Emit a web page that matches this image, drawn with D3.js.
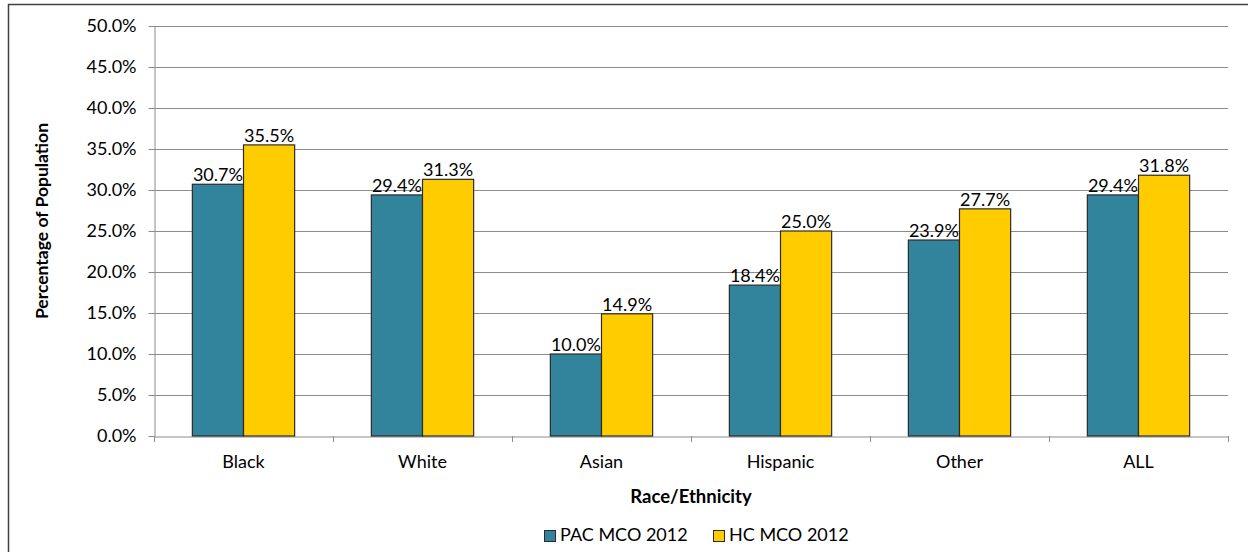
<!DOCTYPE html>
<html>
<head>
<meta charset="utf-8">
<script src="https://cdn.jsdelivr.net/npm/d3@7"></script>
<style>
  html, body { margin: 0; padding: 0; background: #fff; }
  svg { display: block; font-family: Lato, "Open Sans", "Liberation Sans", sans-serif; }
</style>
</head>
<body>
<svg id="chart" width="1248" height="552"></svg>
<script>
// Share of each group, by race/ethnicity, for two plans
const categories = ["Black", "White", "Asian", "Hispanic", "Other", "ALL"];
const seriesNames = ["PAC MCO 2012", "HC MCO 2012"];
const pacValues = [30.7, 29.4, 10.0, 18.4, 23.9, 29.4];
const hcValues = [35.5, 31.3, 14.9, 25.0, 27.7, 31.8];
const yTicks = [0, 5, 10, 15, 20, 25, 30, 35, 40, 45, 50];
const colors = ["#31849B", "#FFCC00"];

const svg = d3.select("#chart");
const plot = { left: 154, right: 1228, top: 26, bottom: 436 };
const fontSize = 18;

// outer chart frame
svg.append("rect")
  .attr("x", 8.5).attr("y", 4.5)
  .attr("width", 1260).attr("height", 600)
  .attr("fill", "none").attr("stroke", "#404040").attr("stroke-width", 1.5);

const x0 = d3.scaleBand().domain(categories).range([plot.left, plot.right]).paddingInner(0).paddingOuter(0);
const bandW = x0.bandwidth();
const groupW = bandW * 2 / 3.5;
const x1 = d3.scaleBand().domain(seriesNames).range([0, groupW]);
const y = d3.scaleLinear().domain([0, 50]).range([plot.bottom, plot.top]);

// horizontal gridlines
svg.append("g").selectAll("line").data(yTicks.filter(d => d > 0)).join("line")
  .attr("x1", plot.left).attr("x2", plot.right)
  .attr("y1", d => Math.round(y(d)) + 0.5).attr("y2", d => Math.round(y(d)) + 0.5)
  .attr("stroke", "#8c8c8c").attr("stroke-width", 1);

// y axis
const yAxis = svg.append("g")
  .attr("transform", `translate(${plot.left + 0.5},0)`)
  .call(d3.axisLeft(y).tickValues(yTicks).tickSize(6).tickSizeOuter(0).tickFormat(d => d.toFixed(1) + "%"));
yAxis.select(".domain").attr("stroke", "#8c8c8c");
yAxis.selectAll(".tick line").attr("stroke", "#8c8c8c");
yAxis.selectAll(".tick text").attr("font-size", fontSize).attr("fill", "#000").attr("x", -18).attr("font-family", "Lato, sans-serif");

// x axis
const xAxis = svg.append("g")
  .attr("transform", `translate(0,${Math.round(plot.bottom) + 0.5})`)
  .call(d3.axisBottom(x0).tickSize(0).tickSizeOuter(0));
xAxis.select(".domain").attr("stroke", "#8c8c8c");
xAxis.selectAll(".tick text").attr("font-size", fontSize).attr("fill", "#000").attr("dy", 0).attr("y", 31).attr("font-family", "Lato, sans-serif");
// category separator ticks
svg.append("g").selectAll("line").data(d3.range(categories.length + 1)).join("line")
  .attr("x1", i => Math.round(plot.left + i * bandW) + 0.5)
  .attr("x2", i => Math.round(plot.left + i * bandW) + 0.5)
  .attr("y1", plot.bottom).attr("y2", plot.bottom + 6)
  .attr("stroke", "#8c8c8c");

// bars
const rows = categories.map((c, i) => ({ cat: c, vals: [pacValues[i], hcValues[i]] }));
const groups = svg.append("g").selectAll("g").data(rows).join("g")
  .attr("transform", d => `translate(${x0(d.cat) + (bandW - groupW) / 2},0)`);
groups.selectAll("rect").data(d => d.vals.map((v, j) => ({ v, s: seriesNames[j], j }))).join("rect")
  .attr("x", d => x1(d.s))
  .attr("y", d => y(d.v))
  .attr("width", x1.bandwidth())
  .attr("height", d => y(0) - y(d.v))
  .attr("fill", d => colors[d.j])
  .attr("stroke", "#2b2b2b").attr("stroke-width", 1.2);
groups.selectAll("text").data(d => d.vals.map((v, j) => ({ v, s: seriesNames[j], j }))).join("text")
  .attr("x", d => x1(d.s) + x1.bandwidth() / 2)
  .attr("y", d => y(d.v) - 3)
  .attr("text-anchor", "middle")
  .attr("font-size", fontSize).attr("fill", "#000")
  .text(d => d.v.toFixed(1) + "%");

// axis titles
svg.append("text")
  .attr("transform", `translate(48,221) rotate(-90)`)
  .attr("text-anchor", "middle").attr("font-weight", "bold").attr("font-size", 17.5)
  .text("Percentage of Population");
svg.append("text")
  .attr("x", (plot.left + plot.right) / 2).attr("y", 503)
  .attr("text-anchor", "middle").attr("font-weight", "bold").attr("font-size", 18.5)
  .text("Race/Ethnicity");

// legend
const legendItems = [{ name: seriesNames[0], x: 544 }, { name: seriesNames[1], x: 713 }];
const lg = svg.append("g").selectAll("g").data(legendItems).join("g")
  .attr("transform", d => `translate(${d.x},530)`);
lg.append("rect").attr("x", 0.5).attr("y", 0.5).attr("width", 11).attr("height", 11)
  .attr("fill", (d, i) => colors[i]).attr("stroke", "#2b2b2b").attr("stroke-width", 1);
lg.append("text").attr("x", 16).attr("y", 11).attr("font-size", fontSize).text(d => d.name);
</script>
</body>
</html>
